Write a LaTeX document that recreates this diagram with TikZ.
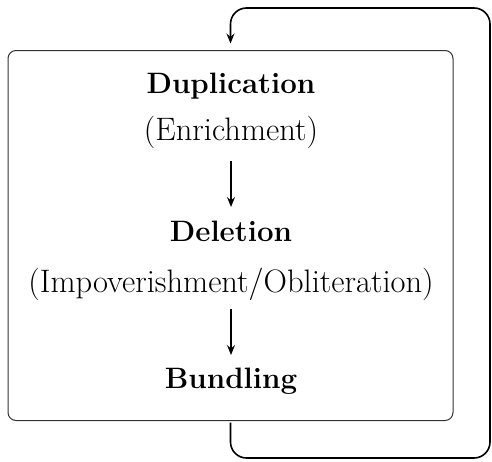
\documentclass[tikz,border=0pt]{standalone}
\usetikzlibrary{arrows.meta,calc}
\tikzset{
  frame/.style={draw=black!80, line width=1pt, rounded corners=8pt, minimum width=445pt, minimum height=370pt, inner sep=0pt, outer sep=2pt},
  title/.style={font=\fontsize{29.5}{33}\selectfont\bfseries, inner sep=0pt, anchor=base},
  sub/.style={font=\fontsize{32.5}{36}\selectfont, inner sep=0pt, anchor=base},
  flow/.style={line width=1.4pt, -{Stealth[length=10pt,width=8pt,inset=3.5pt]}},
  loopline/.style={line width=1.6pt, rounded corners=16pt, -{Stealth[length=10pt,width=8pt,inset=3.5pt]}}
}
\begin{document}
\begin{tikzpicture}[x=1pt,y=-1pt]
\useasboundingbox (0,0) rectangle (492,461);
\node[frame] (box) at (230.5,235.5) {};
\node[title] (dup) at (231,93) {Duplication};
\node[sub] (enr) at (231,140) {(Enrichment)};
\node[title] (del) at (231,241.5) {Deletion};
\node[sub] (imp) at (231,292) {(Impoverishment/Obliteration)};
\node[title] (bun) at (231,388) {Bundling};
\coordinate (a1) at (231,161);
\coordinate (a2) at (231,207);
\coordinate (b1) at (231,309);
\coordinate (b2) at (231,355);
\draw[flow] (a1) -- (a2);
\draw[flow] (b1) -- (b2);
\coordinate (bot) at (490,458);
\coordinate (top) at (490,8);
\coordinate (entry) at ($(box.north)+(0,-5)$);
\draw[loopline] (box.south) |- (bot) -- (top) -| (entry);
\end{tikzpicture}
\end{document}
